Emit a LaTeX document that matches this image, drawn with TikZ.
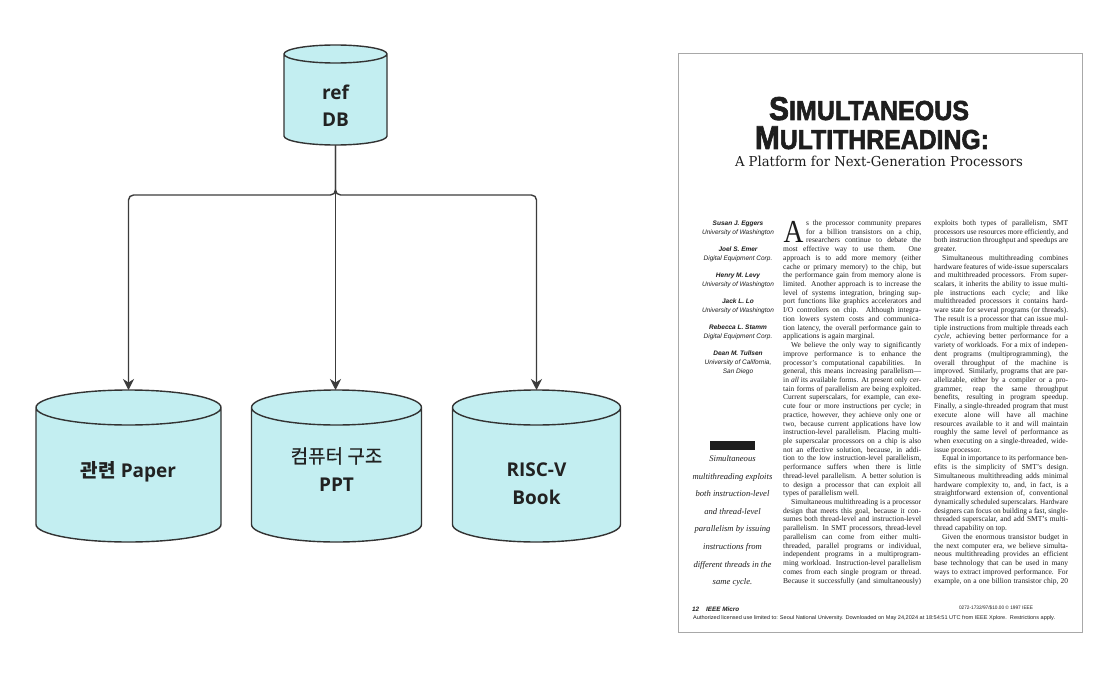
\documentclass[tikz,border=0pt]{standalone}
\usepackage{fontspec}
\usepackage{graphicx}
\setmainfont{Liberation Serif}
\newfontfamily\psans{Liberation Sans}
\newfontfamily\tfont[BoldFeatures={FakeBold=2.2}]{Liberation Sans}
\newfontfamily\dserif{DejaVu Serif}
\newfontfamily\osans{Open Sans}
\newfontfamily\krfont{Noto Sans CJK KR}
\newfontfamily\krmed[FakeBold=0.5]{Noto Sans CJK KR}
\usetikzlibrary{arrows.meta,calc}
\definecolor{cylfill}{HTML}{C3EEF1}
\definecolor{cylline}{HTML}{333333}
\definecolor{connc}{HTML}{3C3C3C}
\definecolor{dbtxt}{HTML}{222222}
\definecolor{pagebd}{HTML}{A8A8A8}
\definecolor{ink}{HTML}{1E1E1E}

\newlength\fitw
% justified line, optional left indent
\newcommand\jl[2][0pt]{\par\noindent\hspace*{#1}\setlength\fitw{\linewidth}\addtolength\fitw{-#1}%
  \sbox0{#2}\ifdim\wd0>\fitw\resizebox{\fitw}{\height}{#2}\else\makebox[\fitw][s]{#2}\fi\par}
% last line of a paragraph
\newcommand\el[2][0pt]{\par\noindent\hspace*{#1}#2\par}

% cylinder drawn over the box of a node
\newcommand\drawdb[2]{%
  \path[dbshape] let \p1=(#1.north west), \p2=(#1.south east), \n1={(\x2-\x1)/2} in
    (\x1,\y1-#2) -- (\x1,\y2+#2)
    arc[start angle=180, end angle=360, x radius={\n1*1pt}, y radius=#2]
    -- (\x2,\y1-#2)
    arc[start angle=0, end angle=180, x radius={\n1*1pt}, y radius=#2]
    -- cycle
    (\x1,\y1-#2) arc[start angle=180, end angle=360, x radius={\n1*1pt}, y radius=#2];}

\begin{document}
\begin{tikzpicture}[x=1pt,y=-1pt,
  dbbox/.style={inner sep=0pt, outer sep=0pt, minimum width=#1},
  dbshape/.style={fill=cylfill, draw=cylline, line width=1.4pt, line join=round},
  dbtext/.style={anchor=base, inner sep=0pt, text=dbtxt, font={\osans\bfseries\fontsize{19}{19}\selectfont}},
  conn/.style={draw=connc, line width=1.4pt, rounded corners=5pt, -{Stealth[length=11pt,width=11pt,inset=3.5pt]}},
  ptext/.style={inner sep=0pt, text=ink}]
\fill[white] (0,0) rectangle (1110,682);
\useasboundingbox (0,0) rectangle (1110,682);

% ---------------- left diagram ----------------
\node[dbbox=103pt, minimum height=100pt] (ref) at (335.5,95) {};
\node[dbbox=185pt, minimum height=152pt] (paper) at (128.5,466) {};
\node[dbbox=170pt, minimum height=152pt] (ppt) at (336.5,466) {};
\node[dbbox=168pt, minimum height=152pt] (risc) at (536.5,466) {};
\drawdb{ref}{9pt}
\drawdb{paper}{17.5pt}
\drawdb{ppt}{17.5pt}
\drawdb{risc}{17.5pt}

\node[dbtext] (ref-a) at (335.5,100) {ref};
\node[dbtext] (ref-b) at (335.5,127) {DB};
\node[dbtext] (paper-a) at (128.5,477) {{\krfont\bfseries 관련} Paper};
\node[dbtext] (ppt-a) at (336.5,463) {{\krmed\mdseries 컴퓨터 구조}};
\node[dbtext] (ppt-b) at (336.5,491) {PPT};
\node[dbtext] (risc-a) at (536.5,476) {RISC-V};
\node[dbtext] (risc-b) at (536.5,504) {Book};

\coordinate (bus) at (335.5,195);
\draw[conn] (ref.south) |- (paper.north |- bus) -- (paper.north);
\draw[conn] (ref.south) -- (ref.south |- ppt.north);
\draw[conn] (ref.south) |- (risc.north |- bus) -- (risc.north);

% ---------------- paper page ----------------
\draw[pagebd, line width=0.9pt] (678,53) rectangle (1082,632);

\node[ptext, anchor=base] (title1) at (869,120)
  {\resizebox{200pt}{\height}{\tfont\bfseries\fontsize{33}{33}\selectfont S\fontsize{27.5}{27.5}\selectfont IMULTANEOUS}};
\node[ptext, anchor=base] (title2) at (872,149)
  {\resizebox{234pt}{\height}{\tfont\bfseries\fontsize{33}{33}\selectfont M\fontsize{27.5}{27.5}\selectfont ULTITHREADING:}};
\node[ptext, anchor=base] (subtitle) at (879,166)
  {\resizebox{288pt}{\height}{\dserif\fontsize{13.7}{14}\selectfont A Platform for Next-Generation Processors}};

\node[ptext, anchor=base] (authors) at (738,225.3) {\begin{minipage}[t]{120pt}\centering\psans\itshape\fontsize{6.5}{9.2}\selectfont
\textbf{Susan J. Eggers}\\University of Washington\\[7.6pt]
\textbf{Joel S. Emer}\\Digital Equipment Corp.\\[7.6pt]
\textbf{Henry M. Levy}\\University of Washington\\[7.6pt]
\textbf{Jack L. Lo}\\University of Washington\\[7.6pt]
\textbf{Rebecca L. Stamm}\\Digital Equipment Corp.\\[7.6pt]
\textbf{Dean M. Tullsen}\\University of California,\\San Diego
\end{minipage}};

\fill[ink] (710,441) rectangle (755,450);
\node[ptext, anchor=base] (side) at (732.5,461.5) {\begin{minipage}[t]{130pt}\centering\itshape\fontsize{8.6}{17.6}\selectfont
Simultaneous\\ multithreading exploits\\ both instruction-level\\ and thread-level\\ parallelism by issuing\\ instructions from\\ different threads in the\\ same cycle.
\end{minipage}};

\node[ptext, anchor=base west] (dropA) at (783.5,242.6) {\scalebox{0.86}[1]{\fontsize{32}{32}\selectfont A}};

\node[ptext, anchor=base west] (col1) at (783,225.5) {\begin{minipage}[t]{138pt}\fontsize{7.5}{8.72}\selectfont
\jl[23pt]{s the processor community prepares}
\jl[23pt]{for a billion transistors on a chip,}
\jl[23pt]{researchers continue to debate the}
\jl{most effective way to use them. One}
\jl{approach is to add more memory (either}
\jl{cache or primary memory) to the chip, but}
\jl{the performance gain from memory alone is}
\jl{limited. Another approach is to increase the}
\jl{level of systems integration, bringing sup-}
\jl{port functions like graphics accelerators and}
\jl{I/O controllers on chip. Although integra-}
\jl{tion lowers system costs and communica-}
\jl{tion latency, the overall performance gain to}
\el{applications is again marginal.}
\jl[8pt]{We believe the only way to significantly}
\jl{improve performance is to enhance the}
\jl{processor’s computational capabilities. In}
\jl{general, this means increasing parallelism—}
\jl{in \emph{all} its available forms. At present only cer-}
\jl{tain forms of parallelism are being exploited.}
\jl{Current superscalars, for example, can exe-}
\jl{cute four or more instructions per cycle; in}
\jl{practice, however, they achieve only one or}
\jl{two, because current applications have low}
\jl{instruction-level parallelism. Placing multi-}
\jl{ple superscalar processors on a chip is also}
\jl{not an effective solution, because, in addi-}
\jl{tion to the low instruction-level parallelism,}
\jl{performance suffers when there is little}
\jl{thread-level parallelism. A better solution is}
\jl{to design a processor that can exploit all}
\el{types of parallelism well.}
\jl[8pt]{Simultaneous multithreading is a processor}
\jl{design that meets this goal, because it con-}
\jl{sumes both thread-level and instruction-level}
\jl{parallelism. In SMT processors, thread-level}
\jl{parallelism can come from either multi-}
\jl{threaded, parallel programs or individual,}
\jl{independent programs in a multiprogram-}
\jl{ming workload. Instruction-level parallelism}
\jl{comes from each single program or thread.}
\jl{Because it successfully (and simultaneously)}
\end{minipage}};

\node[ptext, anchor=base west] (col2) at (934,225.5) {\begin{minipage}[t]{134pt}\fontsize{7.5}{8.72}\selectfont
\jl{exploits both types of parallelism, SMT}
\jl{processors use resources more efficiently, and}
\jl{both instruction throughput and speedups are}
\el{greater.}
\jl[8pt]{Simultaneous multithreading combines}
\jl{hardware features of wide-issue superscalars}
\jl{and multithreaded processors. From super-}
\jl{scalars, it inherits the ability to issue multi-}
\jl{ple instructions each cycle; and like}
\jl{multithreaded processors it contains hard-}
\jl{ware state for several programs (or threads).}
\jl{The result is a processor that can issue mul-}
\jl{tiple instructions from multiple threads each}
\jl{\emph{cycle}, achieving better performance for a}
\jl{variety of workloads. For a mix of indepen-}
\jl{dent programs (multiprogramming), the}
\jl{overall throughput of the machine is}
\jl{improved. Similarly, programs that are par-}
\jl{allelizable, either by a compiler or a pro-}
\jl{grammer, reap the same throughput}
\jl{benefits, resulting in program speedup.}
\jl{Finally, a single-threaded program that must}
\jl{execute alone will have all machine}
\jl{resources available to it and will maintain}
\jl{roughly the same level of performance as}
\jl{when executing on a single-threaded, wide-}
\el{issue processor.}
\jl[8pt]{Equal in importance to its performance ben-}
\jl{efits is the simplicity of SMT’s design.}
\jl{Simultaneous multithreading adds minimal}
\jl{hardware complexity to, and, in fact, is a}
\jl{straightforward extension of, conventional}
\jl{dynamically scheduled superscalars. Hardware}
\jl{designers can focus on building a fast, single-}
\jl{threaded superscalar, and add SMT’s multi-}
\el{thread capability on top.}
\jl[8pt]{Given the enormous transistor budget in}
\jl{the next computer era, we believe simulta-}
\jl{neous multithreading provides an efficient}
\jl{base technology that can be used in many}
\jl{ways to extract improved performance. For}
\jl{example, on a one billion transistor chip, 20}
\end{minipage}};

\node[ptext, anchor=base west] (foot1) at (692,611)
  {\psans\bfseries\itshape\fontsize{6.3}{7}\selectfont 12\hspace{7pt}IEEE Micro};
\node[ptext, anchor=base] (foot2) at (996,609)
  {\resizebox{74pt}{\height}{\psans\fontsize{5}{6}\selectfont 0272-1732/97/\$10.00 © 1997 IEEE}};
\node[ptext, anchor=base west] (foot3) at (693,619.5)
  {\resizebox{362pt}{\height}{\psans\fontsize{5.4}{6}\selectfont Authorized licensed use limited to: Seoul National University. Downloaded on May 24,2024 at 18:54:51 UTC from IEEE Xplore.\ \ Restrictions apply.}};
\end{tikzpicture}
\end{document}
